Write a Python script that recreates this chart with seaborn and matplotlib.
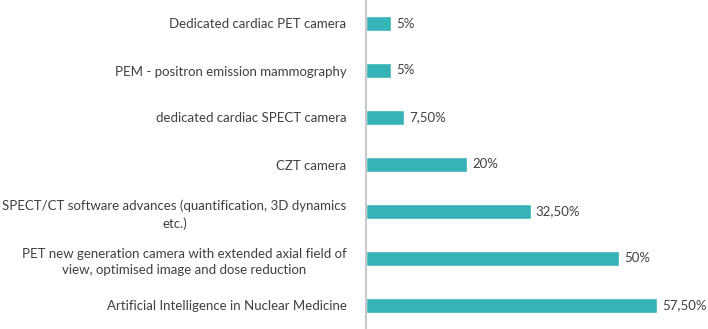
import matplotlib
matplotlib.use("Agg")
import matplotlib.pyplot as plt
import seaborn as sns
import pandas as pd

categories = [
    "Dedicated cardiac PET camera",
    "PEM - positron emission mammography",
    "dedicated cardiac SPECT camera",
    "CZT camera",
    "SPECT/CT software advances (quantification, 3D dynamics\netc.)",
    "PET new generation camera with extended axial field of\nview, optimised image and dose reduction",
    "Artificial Intelligence in Nuclear Medicine",
]
values = [5, 5, 7.5, 20, 32.5, 50, 57.5]
value_labels = ["5%", "5%", "7,50%", "20%", "32,50%", "50%", "57,50%"]

sns.set_theme(style="white")
plt.rcParams["font.family"] = ["Lato", "DejaVu Sans"]

df = pd.DataFrame({"cat": categories, "val": values})

fig = plt.figure(figsize=(7.08, 3.29), dpi=100)
ax = fig.add_axes([366 / 708, 0.0, 1 - 366 / 708, 1.0])
sns.barplot(data=df, x="val", y="cat", orient="h", color="#35B3B7",
            width=0.3, ax=ax, saturation=1)

ax.set_xlim(0, 67.5)
ax.set_ylim(6.5, -0.5)
ax.set_xlabel("")
ax.set_ylabel("")
ax.set_xticks([])
for s in ["top", "right", "bottom"]:
    ax.spines[s].set_visible(False)
ax.spines["left"].set_color("#BFBFBF")
ax.spines["left"].set_linewidth(1.2)
ax.tick_params(axis="y", length=0, pad=14)
for lbl in ax.get_yticklabels():
    lbl.set_multialignment("center")
    lbl.set_linespacing(1.45)
    lbl.set_fontsize(9.5)
    lbl.set_color("#404040")

for i, (v, t) in enumerate(zip(values, value_labels)):
    ax.text(v + 1.0, i, t, va="center", ha="left", fontsize=9.5, color="#404040")

fig.savefig("out.png", dpi=100)
